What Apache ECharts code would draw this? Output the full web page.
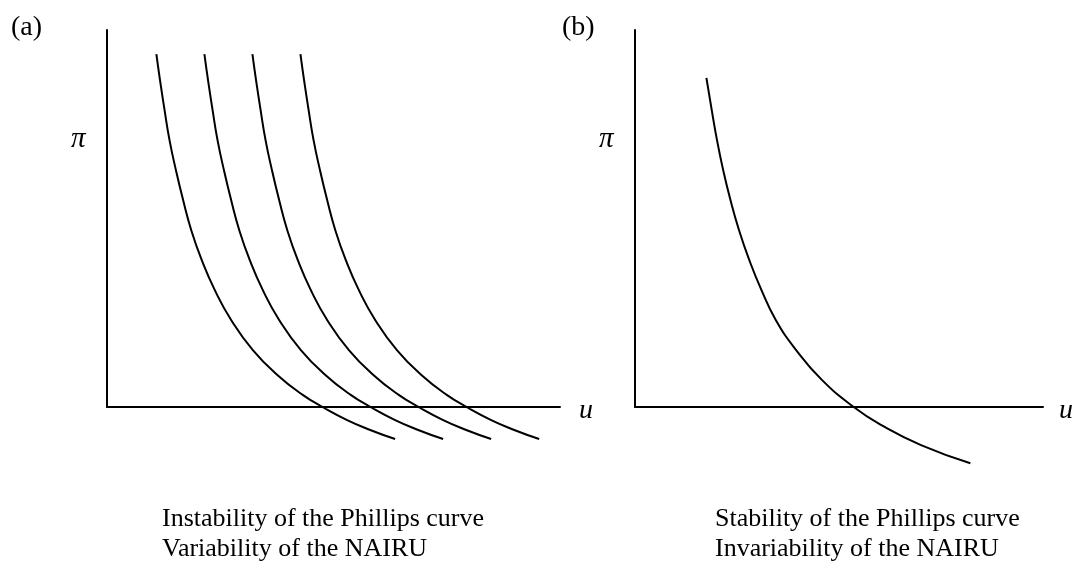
<!DOCTYPE html>
<html>
<head>
<meta charset="utf-8">
<script src="https://cdn.jsdelivr.net/npm/echarts@6/dist/echarts.min.js"></script>
<style>
  html, body { margin: 0; padding: 0; background: #fff; }
  #chart { width: 1077px; height: 573px; }
</style>
</head>
<body>
<div id="chart"></div>
<script>
// (a) 四条曲线共用同一组 π 值，u 值各自平移
const piA = [93.6, 86.7, 78.8, 70.8, 62.9, 54.9, 46.9, 39.0, 31.0, 23.1, 15.1, 8.5, 3.2, 0, -3.4, -6.1, -8.5]
const uA1 = [10.9, 11.7, 12.7, 13.8, 15.2, 16.8, 18.6, 20.9, 23.8, 27.4, 32.2, 37.6, 43.2, 47.6, 52.9, 58.1, 63.6]
const uA2 = [21.5, 22.3, 23.3, 24.4, 25.8, 27.4, 29.2, 31.5, 34.4, 38.0, 42.8, 48.2, 53.8, 58.2, 63.5, 68.7, 74.2]
const uA3 = [32.1, 32.9, 33.9, 35.0, 36.4, 38.0, 39.8, 42.1, 45.0, 48.6, 53.4, 58.8, 64.4, 68.8, 74.1, 79.3, 84.8]
const uA4 = [42.7, 43.5, 44.5, 45.6, 47.0, 48.6, 50.4, 52.7, 55.6, 59.2, 64.0, 69.4, 75.0, 79.4, 84.7, 89.9, 95.4]

// (b) 一条稳定的曲线
const piB = [87.3, 78.8, 70.8, 62.9, 54.9, 46.9, 39.0, 31.0, 23.1, 15.1, 7.2, 0, -4.8, -10.1, -14.9]
const uB = [17.5, 18.8, 20.1, 21.6, 23.4, 25.5, 28.0, 31.0, 34.5, 39.5, 45.8, 53.6, 60.4, 70.1, 82.2]

const panelLabels = ['(a)', '(b)']
const captionA = ['Instability of the Phillips curve', 'Variability of the NAIRU']
const captionB = ['Stability of the Phillips curve', 'Invariability of the NAIRU']

const serif = '"Liberation Serif", "Times New Roman", serif'
const myChart = echarts.init(document.getElementById('chart'))

const zip = (xs, ys) => xs.map((x, i) => [x, ys[i]])

// 坐标轴：只保留轴线
const axisBase = {
  type: 'value',
  min: 0,
  max: 100,
  axisLine: { show: true, onZero: false, lineStyle: { color: '#000', width: 2 } },
  axisTick: { show: false },
  axisLabel: { show: false },
  splitLine: { show: false }
}

const makeLine = (data, idx) => ({
  type: 'line',
  xAxisIndex: idx,
  yAxisIndex: idx,
  data: data,
  smooth: 0.5,
  showSymbol: false,
  clip: false,
  silent: true,
  lineStyle: { color: '#000', width: 2 }
})

const text = (str, left, top, size, italic) => ({
  type: 'text',
  left: left,
  top: top,
  style: {
    text: str,
    font: (italic ? 'italic ' : '') + size + 'px ' + serif,
    fill: '#000',
    lineHeight: 30
  }
})

const option = {
  backgroundColor: '#fff',
  animation: false,
  grid: [
    { left: 107, top: 30, width: 453, height: 377 },
    { left: 635, top: 30, width: 408, height: 377 }
  ],
  xAxis: [
    Object.assign({ gridIndex: 0 }, axisBase),
    Object.assign({ gridIndex: 1 }, axisBase)
  ],
  yAxis: [
    Object.assign({ gridIndex: 0 }, axisBase),
    Object.assign({ gridIndex: 1 }, axisBase)
  ],
  series: [
    makeLine(zip(uA1, piA), 0),
    makeLine(zip(uA2, piA), 0),
    makeLine(zip(uA3, piA), 0),
    makeLine(zip(uA4, piA), 0),
    makeLine(zip(uB, piB), 1)
  ],
  graphic: [
    text(panelLabels[0], 11, 13, 28),
    text(panelLabels[1], 562, 13, 28),
    text('π', 71, 124, 29, true),
    text('π', 599, 124, 29, true),
    text('u', 579, 396, 28, true),
    text('u', 1059, 396, 28, true),
    text(captionA.join('\n'), 162, 504, 26),
    text(captionB.join('\n'), 715, 504, 26)
  ]
}
myChart.setOption(option)
</script>
</body>
</html>
